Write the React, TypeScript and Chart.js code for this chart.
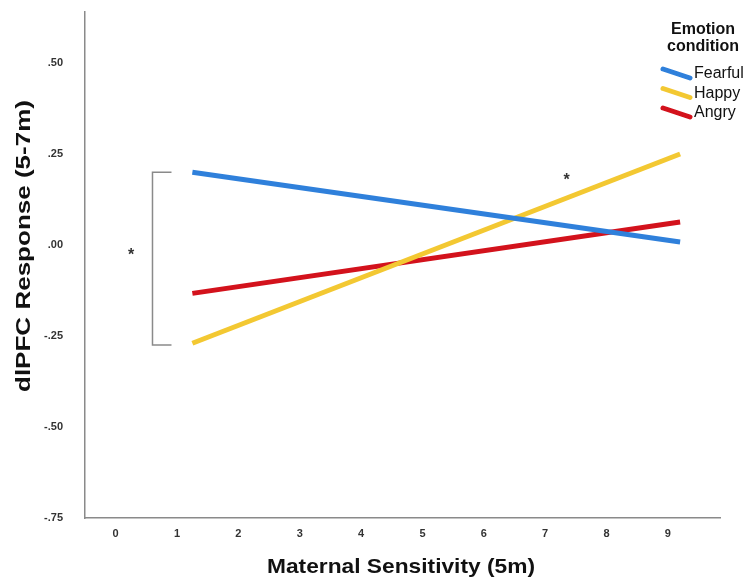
import React, { useEffect, useRef } from "react";
import { Chart, registerables } from "chart.js";

Chart.register(...registerables);

const seriesNames = ["Fearful", "Happy", "Angry"];
const seriesColors = ["#2f80db", "#f3c832", "#d3121c"];
const xEnds = [1.25, 9.2];
const fearfulValues = [0.2, 0.008];
const happyValues = [-0.27, 0.25];
const angryValues = [-0.133, 0.063];
const xTickValues = [0, 1, 2, 3, 4, 5, 6, 7, 8, 9];
const yTickValues = [-0.75, -0.5, -0.25, 0, 0.25, 0.5];
const bracketX = 0.6;
const bracketRange = [0.2, -0.275];
const stars = [
  { x: 0.25, y: -0.02 },
  { x: 7.35, y: 0.185 },
];
const xTitle = "Maternal Sensitivity (5m)";
const yTitle = "dlPFC Response (5-7m)";
const legendTitle = ["Emotion", "condition"];

const FONT = "'Liberation Sans', Arial, sans-serif";

const fmtY = (v: number) => {
  const s = Math.abs(v).toFixed(2).replace(/^0/, "");
  return v < 0 ? "-" + s : s;
};

export default function App() {
  const ref = useRef<HTMLCanvasElement>(null);
  useEffect(() => {
    if (!ref.current) return;
    const all = [fearfulValues, happyValues, angryValues];
    const drawStretched = (ctx: any, text: string, cx: number, cy: number, target: number, rot: number) => {
      ctx.save();
      ctx.translate(cx, cy);
      ctx.rotate(rot);
      const w = ctx.measureText(text).width;
      ctx.scale(target / w, 1);
      ctx.fillText(text, 0, 0);
      ctx.restore();
    };
    const overlay = {
      id: "overlay",
      afterDatasetsDraw(chart: any) {
        const ctx = chart.ctx;
        const xs = chart.scales.x;
        const ys = chart.scales.y;
        ctx.save();
        // bracket
        const bx = xs.getPixelForValue(bracketX);
        const by1 = ys.getPixelForValue(bracketRange[0]);
        const by2 = ys.getPixelForValue(bracketRange[1]);
        ctx.strokeStyle = "#8a8a8a";
        ctx.lineWidth = 1.5;
        ctx.beginPath();
        ctx.moveTo(bx + 19, by1);
        ctx.lineTo(bx, by1);
        ctx.lineTo(bx, by2);
        ctx.lineTo(bx + 19, by2);
        ctx.stroke();
        // stars
        ctx.fillStyle = "#333";
        ctx.font = "bold 16px " + FONT;
        ctx.textAlign = "center";
        ctx.textBaseline = "middle";
        for (const s of stars) {
          ctx.fillText("*", xs.getPixelForValue(s.x), ys.getPixelForValue(s.y) + 3);
        }
        // axis titles
        ctx.fillStyle = "#111";
        ctx.font = "bold 21px " + FONT;
        drawStretched(ctx, xTitle, 401, 567, 268, 0);
        drawStretched(ctx, yTitle, 24, 246, 292, -Math.PI / 2);
        // legend
        ctx.fillStyle = "#111";
        ctx.font = "bold 16px " + FONT;
        ctx.textAlign = "center";
        ctx.fillText(legendTitle[0], 703, 30);
        ctx.fillText(legendTitle[1], 703, 47);
        ctx.font = "16px " + FONT;
        ctx.textAlign = "left";
        seriesNames.forEach((n, i) => {
          const y = 74 + i * 19.5;
          ctx.strokeStyle = seriesColors[i];
          ctx.lineWidth = 5;
          ctx.lineCap = "round";
          ctx.beginPath();
          ctx.moveTo(663, y - 5);
          ctx.lineTo(690, y + 4);
          ctx.stroke();
          ctx.fillStyle = "#111";
          ctx.fillText(n, 694, y);
        });
        ctx.restore();
      },
    };
    const chart = new Chart(ref.current, {
      type: "scatter",
      data: {
        datasets: seriesNames.map((n, i) => ({
          label: n,
          data: xEnds.map((x, j) => ({ x, y: all[i][j] })),
          showLine: true,
          borderColor: seriesColors[i],
          backgroundColor: seriesColors[i],
          borderWidth: 5,
          pointRadius: 0,
          borderCapStyle: "butt",
        })),
      },
      options: {
        animation: false,
        responsive: false,
        layout: { padding: { top: 12, right: 28, left: 0, bottom: 0 } },
        plugins: { legend: { display: false }, tooltip: { enabled: false } },
        scales: {
          x: {
            type: "linear",
            min: -0.5,
            max: 9.85,
            afterBuildTicks: (s: any) => {
              s.ticks = xTickValues.map((v) => ({ value: v }));
            },
            afterFit: (s: any) => {
              s.height = 62;
              s.paddingLeft = 0;
              s.paddingRight = 0;
              s.paddingTop = 0;
              s.paddingBottom = 0;
            },
            grid: { display: false, drawTicks: false },
            border: { color: "#8a8a8a", width: 1.5 },
            ticks: {
              padding: 9,
              color: "#333",
              font: { family: FONT, size: 11, weight: "bold" },
              callback: (v: any) => String(v),
            },
          },
          y: {
            type: "linear",
            min: -0.75,
            max: 0.64,
            afterBuildTicks: (s: any) => {
              s.ticks = yTickValues.map((v) => ({ value: v }));
            },
            afterFit: (s: any) => {
              s.width = 85;
              s.paddingLeft = 0;
              s.paddingRight = 0;
              s.paddingTop = 0;
              s.paddingBottom = 0;
            },
            grid: { display: false, drawTicks: false },
            border: { color: "#8a8a8a", width: 1.5 },
            ticks: {
              padding: 22,
              color: "#333",
              font: { family: FONT, size: 11, weight: "bold" },
              callback: (v: any) => fmtY(Number(v)),
            },
          },
        },
      },
      plugins: [overlay],
    } as any);
    return () => chart.destroy();
  }, []);
  return (
    <div style={{ position: "fixed", left: 0, top: 0, width: 748, height: 580, background: "#fff" }}>
      <canvas ref={ref} width={748} height={580} />
    </div>
  );
}
